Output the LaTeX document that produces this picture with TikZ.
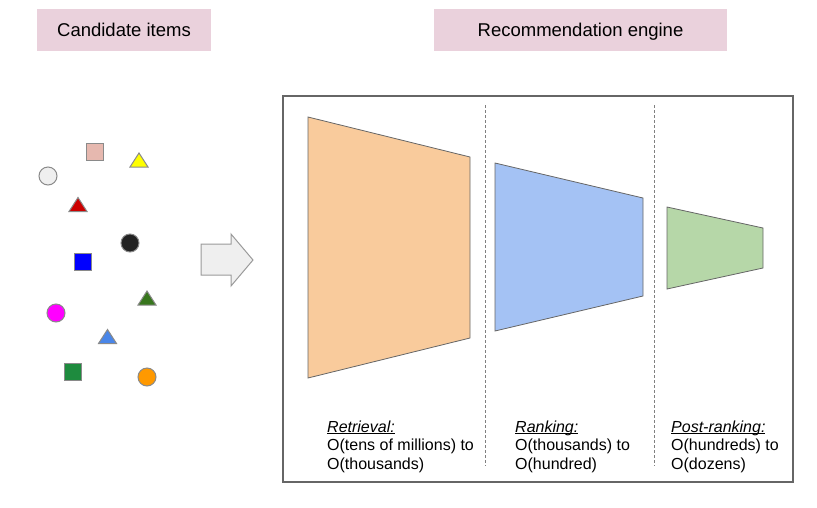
\documentclass[tikz,border=0pt]{standalone}
\usepackage{fontspec}
\setmainfont{Liberation Sans}
\usetikzlibrary{positioning}
\tikzstyle{pixelGrid} = [x = 1pt, y = -1pt]
\definecolor{titleColor}{HTML}{EAD1DC}
\definecolor{frameColor}{HTML}{666666}
\definecolor{itemBorder}{HTML}{8A8A8A}
\definecolor{retrievalColor}{HTML}{F9CB9C}
\definecolor{rankingColor}{HTML}{A4C2F4}
\definecolor{postColor}{HTML}{B6D7A8}
\definecolor{arrowFill}{HTML}{EFEFEF}
\definecolor{arrowBorder}{HTML}{9A9A9A}
\definecolor{itemPink}{HTML}{E6B8AF}
\definecolor{itemYellow}{HTML}{FFFF00}
\definecolor{itemRed}{HTML}{CC0000}
\definecolor{itemBlack}{HTML}{222222}
\definecolor{itemBlue}{HTML}{0000FF}
\definecolor{itemDarkGreen}{HTML}{38761D}
\definecolor{itemMagenta}{HTML}{FF00FF}
\definecolor{itemSky}{HTML}{4A86E8}
\definecolor{itemGreen}{HTML}{1E8B3E}
\definecolor{itemOrange}{HTML}{FF9900}
\tikzstyle{titleBox} = [fill=titleColor, minimum height = 42pt, inner sep = 0pt, text height = 13.2pt, text depth = 0pt, font=\fontsize{18.5}{22}\selectfont]
\tikzstyle{frameStyle} = [draw=frameColor, line width = 1.2pt]
\tikzstyle{stageLine} = [draw=gray, dash pattern = on 3pt off 2pt, line width = .8pt]
\tikzstyle{funnelStyle} = [draw=frameColor, line width = .8pt]
\tikzstyle{stageText} = [anchor = base west, align = left, inner sep = 0pt, font=\fontsize{16}{18.5}\selectfont]
\tikzstyle{itemStyle} = [draw=itemBorder, line width = 1pt]
\newcommand{\stageHead}[1]{\underline{\smash{\textit{#1}}}}
\newcommand{\circleItem}[3]{\filldraw [itemStyle, fill=#3] (#1, #2) circle (9pt);}
\newcommand{\squareItem}[3]{\filldraw [itemStyle, fill=#3] (#1 - 8.5, #2 - 8.5) rectangle + (17, 17);}
\newcommand{\triangleItem}[3]{\filldraw [itemStyle, fill=#3] (#1 - 9, #2 + 7) -- (#1, #2 - 7) -- (#1 + 9, #2 + 7) -- cycle;}

\begin{document}
\begin{tikzpicture}[pixelGrid]
  \useasboundingbox (0, 0) rectangle (817, 507);

  % titles
  \node [titleBox, minimum width = 174pt] (candidateTitle) at (124, 30) {Candidate items};
  \node [titleBox, minimum width = 293pt] (engineTitle) at (580.5, 30) {Recommendation engine};

  % candidate items
  \squareItem{95}{151.5}{itemPink}
  \triangleItem{139}{160}{itemYellow}
  \circleItem{48}{176}{arrowFill}
  \triangleItem{78}{204.5}{itemRed}
  \circleItem{130}{243}{itemBlack}
  \squareItem{82.5}{262}{itemBlue}
  \triangleItem{147}{298}{itemDarkGreen}
  \circleItem{56}{313}{itemMagenta}
  \triangleItem{107.5}{336.5}{itemSky}
  \squareItem{73}{372}{itemGreen}
  \circleItem{147}{377}{itemOrange}

  % arrow
  \filldraw [draw=arrowBorder, fill=arrowFill, line width = 1pt, line join = miter]
    (201, 244) -- (231, 244) -- (231, 234) -- (253, 260) -- (231, 286) -- (231, 275) -- (201, 275) -- cycle;

  % engine
  \draw [frameStyle] (283, 96) rectangle (793, 482);
  \draw [stageLine] (485, 105) -- (485, 466);
  \draw [stageLine] (654, 105) -- (654, 466);

  \filldraw [funnelStyle, fill=retrievalColor] (308, 117) -- (470, 157) -- (470, 338) -- (308, 378) -- cycle;
  \filldraw [funnelStyle, fill=rankingColor] (495, 163) -- (643, 198) -- (643, 296) -- (495, 331) -- cycle;
  \filldraw [funnelStyle, fill=postColor] (667, 207) -- (763, 228) -- (763, 268) -- (667, 289) -- cycle;

  \node [stageText] (retrievalText) at (327, 469) {\stageHead{Retrieval:}\\O(tens of millions) to\\O(thousands)};
  \node [stageText] (rankingText) at (515, 469) {\stageHead{Ranking:}\\O(thousands) to\\O(hundred)};
  \node [stageText] (postText) at (671, 469) {\stageHead{Post-ranking:}\\O(hundreds) to\\O(dozens)};
\end{tikzpicture}
\end{document}
